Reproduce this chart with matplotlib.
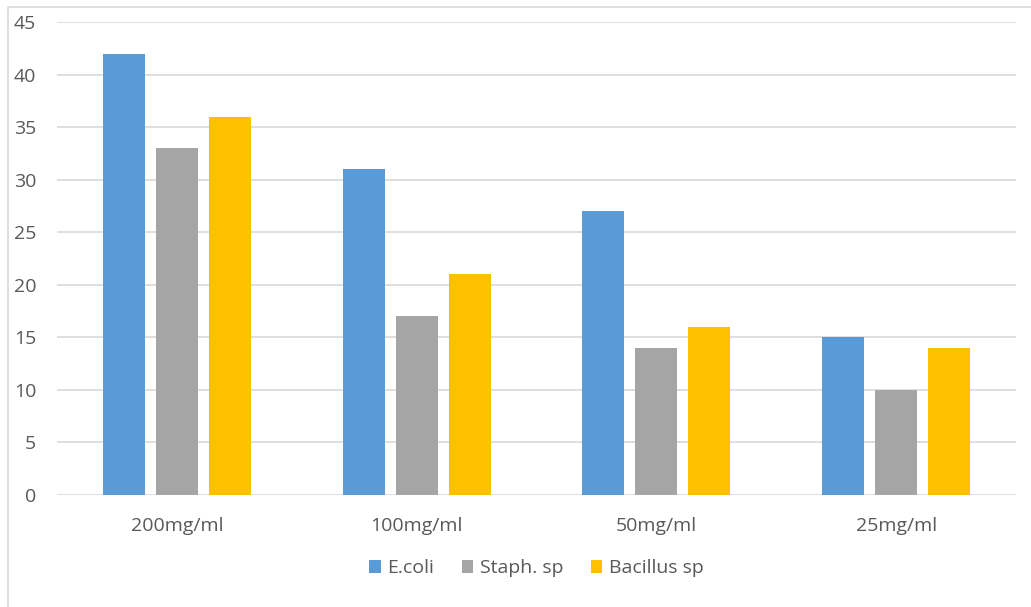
import numpy as np
import matplotlib.pyplot as plt
from matplotlib.patches import Rectangle

categories = ['200mg/ml', '100mg/ml', '50mg/ml', '25mg/ml']
series_names = ['E.coli', 'Staph. sp', 'Bacillus sp']
ecoli = [42, 31, 27, 15]
staph = [33, 17, 14, 10]
bacillus = [36, 21, 16, 14]
colors = ['#5B9BD5', '#A5A5A5', '#FFC000']

plt.rcParams['font.family'] = ['Open Sans', 'DejaVu Sans']

fig = plt.figure(figsize=(10.31, 6.07), dpi=100)
ax = fig.add_axes([57 / 1031, 1 - 495 / 607, 959 / 1031, 473 / 607])

# chart border (only left/top visible in the crop)
fig.patches.append(Rectangle((8 / 1031, -0.1), 1.2, 1 - 7 / 607 + 0.1,
                             transform=fig.transFigure, fill=False,
                             edgecolor='#D9D9D9', linewidth=1.2))

x = np.arange(len(categories))
w = 0.175
off = 0.221
for i, (vals, name) in enumerate(zip([ecoli, staph, bacillus], series_names)):
    ax.bar(x + (i - 1) * off, vals, w, color=colors[i], label=name, zorder=3)

ax.set_xlim(-0.5, len(categories) - 0.5)
ax.set_ylim(0, 45)
ax.set_yticks(range(0, 46, 5))
ax.set_xticks(x)
ax.set_xticklabels(categories)
ax.grid(axis='y', color='#D9D9D9', linewidth=1.2, zorder=0)
ax.tick_params(length=0, labelsize=14, labelcolor='#595959')
ax.tick_params(axis='y', pad=15)
ax.tick_params(axis='x', pad=16)
for s in ax.spines.values():
    s.set_visible(False)

ax.legend(loc='center', bbox_to_anchor=(0.5, -0.155), ncol=3, frameon=False,
          fontsize=14, labelcolor='#595959', handlelength=0.6, handleheight=0.6,
          handletextpad=0.35, columnspacing=1.4)

plt.savefig('out.png', dpi=100)
